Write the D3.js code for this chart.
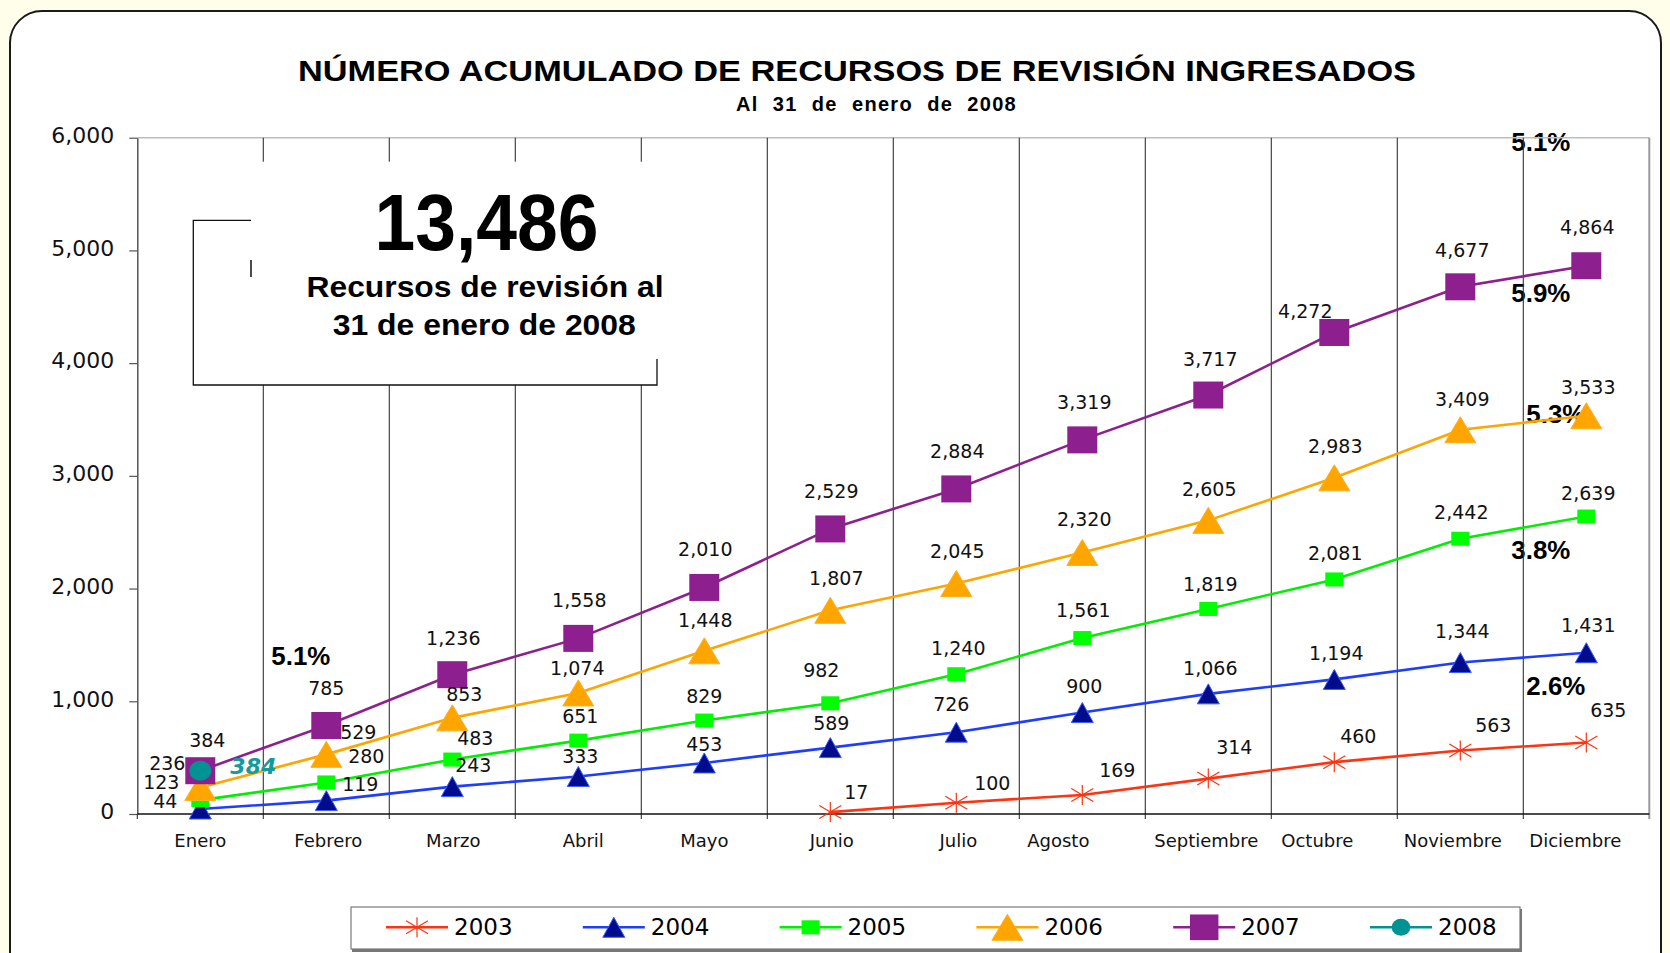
<!DOCTYPE html>
<html><head><meta charset="utf-8">
<script src="https://cdn.jsdelivr.net/npm/d3@7"></script>
<style>html,body{margin:0;padding:0;background:#fffeeb;}svg{display:block}</style>
</head><body>
<svg id="chart" width="1670" height="953"></svg>
<script>
// ---------- DATA ----------
const months = ["Enero","Febrero","Marzo","Abril","Mayo","Junio","Julio","Agosto","Septiembre","Octubre","Noviembre","Diciembre"];
const years = ["2003","2004","2005","2006","2007","2008"];
const values2003 = [null,null,null,null,null,17,100,169,314,460,563,635];
const values2004 = [44,119,243,333,453,589,726,900,1066,1194,1344,1431];
const values2005 = [123,280,483,651,829,982,1240,1561,1819,2081,2442,2639];
const values2006 = [236,529,853,1074,1448,1807,2045,2320,2605,2983,3409,3533];
const values2007 = [384,785,1236,1558,2010,2529,2884,3319,3717,4272,4677,4864];
const values2008 = [384,null,null,null,null,null,null,null,null,null,null,null];
const yTicks = [0,1000,2000,3000,4000,5000,6000];
const titleText = "NÚMERO ACUMULADO DE RECURSOS DE REVISIÓN INGRESADOS";
const subtitleText = "Al 31 de enero de 2008";
const boxNumber = "13,486";
const boxLines = ["Recursos de revisión al","31 de enero de 2008"];
const pctTexts = ["5.1%","5.1%","5.9%","5.3%","3.8%","2.6%"];
const pctMonths = ["Febrero","Diciembre","Diciembre","Diciembre","Diciembre","Diciembre"];
const pctLevels = [1321,5880,4544,3470,2259,1055];

// ---------- LAYOUT / STYLE (not data) ----------
const pctDx = [8,-12,-12,3,-12,3];
const monthLabelDx = [0,2,1,5,0,1.5,2,-24,-2,-17,-7.5,-11];
const labelOffsets = {
  "2003": [null,null,null,null,null,[26,-20],[36,-20],[35,-25],[26,-31],[24,-26],[33,-25],[22,-32]],
  "2004": [[-35,-8],[34,-16],[21,-21],[2,-20],[0,-19],[1,-24],[-5,-28],[2,-26],[2,-26],[2,-26],[2,-31],[2,-28]],
  "2005": [[-39,-18],[40,-26],[23,-21],[2,-24],[0,-24],[-9,-33],[2,-26],[1,-28],[2,-25],[1,-26],[1,-27],[2,-23]],
  "2006": [[-33,-24],[32,-22],[12,-24],[-1,-25],[1,-31],[6,-32],[1,-32],[2,-33],[1,-31],[1,-32],[2,-31],[2,-29]],
  "2007": [[7,-31],[0,-37],[1,-37],[1,-38],[1,-38],[1,-38],[1,-38],[2,-38],[2,-36],[-29,-21],[2,-37],[1,-39]],
  "2008": [[53,-5]]
};
const seriesStyle = {
  "2003": {line:"#ff3311", fill:"#ff3311", marker:"star"},
  "2004": {line:"#1f3dff", fill:"#000c8c", marker:"tri", w:22, h:20, stroke:"#3a5cff"},
  "2005": {line:"#00ee00", fill:"#00ff00", marker:"sq", w:18, h:14},
  "2006": {line:"#ffa500", fill:"#ffa500", marker:"tri", w:31, h:26, stroke:"#ffb020"},
  "2007": {line:"#8e1f8e", fill:"#8e1f8e", marker:"sq", w:30, h:27},
  "2008": {line:"#009393", fill:"#009393", marker:"circ", w:22, h:20}
};
const seriesValues = {"2003":values2003,"2004":values2004,"2005":values2005,"2006":values2006,"2007":values2007,"2008":values2008};

const svg = d3.select("#chart");
const x = d3.scaleBand().domain(months).range([137.3, 1649.3]).paddingInner(0).paddingOuter(0);
const y = d3.scaleLinear().domain([0, 6000]).range([814, 137.7]);
const cx = m => x(m) + x.bandwidth()/2;

// background & panel
svg.append("rect").attr("width",1670).attr("height",953).attr("fill","#fffeeb");
svg.append("rect").attr("x",10).attr("y",11).attr("width",1651).attr("height",1040).attr("rx",32)
  .attr("fill","#ffffff").attr("stroke","#1a1a1a").attr("stroke-width",2);

// title
svg.append("text").attr("x",857).attr("y",80.7).attr("text-anchor","middle")
  .attr("font-family","Liberation Sans, Arial, sans-serif").attr("font-weight","bold").attr("font-size",29)
  .attr("textLength",1118).attr("lengthAdjust","spacingAndGlyphs").attr("fill","#000").text(titleText);
const sub = svg.append("text").attr("x",876.5).attr("y",110.7).attr("text-anchor","middle")
  .attr("font-family","Liberation Sans, Arial, sans-serif").attr("font-weight","bold").attr("font-size",20)
  .attr("letter-spacing","1.3px").attr("fill","#000").text(subtitleText);
{
  const w = sub.node().getComputedTextLength();
  const nSpaces = subtitleText.split(" ").length - 1;
  sub.attr("word-spacing", Math.max(0,(281 - w)/nSpaces) + "px");
}

// percent annotations (under gridlines)
svg.append("g").selectAll("text").data(pctTexts).join("text")
  .attr("x",(d,i)=>x(pctMonths[i]) + pctDx[i]).attr("y",(d,i)=>y(pctLevels[i]))
  .attr("font-family","Liberation Sans, Arial, sans-serif").attr("font-weight","bold").attr("font-size",26)
  .attr("textLength",59).attr("lengthAdjust","spacingAndGlyphs")
  .attr("fill","#000").text(d=>d);

// plot frame
const [x0,x1] = x.range();
svg.append("line").attr("x1",x0).attr("x2",x1).attr("y1",y(6000)).attr("y2",y(6000)).attr("stroke","#bdbdbd").attr("stroke-width",1.5);
svg.append("line").attr("x1",x1).attr("x2",x1).attr("y1",y(6000)).attr("y2",y(0)+5).attr("stroke","#9a9a9a").attr("stroke-width",2);
// vertical gridlines at category boundaries
svg.append("g").selectAll("line").data(months.slice(1)).join("line")
  .attr("x1",d=>x(d)).attr("x2",d=>x(d)).attr("y1",y(6000)).attr("y2",y(0)+5)
  .attr("stroke","#333").attr("stroke-width",1.1);

// annotation box
const boxG = svg.append("g");
boxG.append("rect").attr("x",251).attr("y",161.7).attr("width",406).attr("height",223.3).attr("fill","#fff");
boxG.append("path").attr("d","M251,220.3 H193.3 V385 H657 V359").attr("fill","none").attr("stroke","#111").attr("stroke-width",1.3);
boxG.append("line").attr("x1",251).attr("x2",251).attr("y1",260).attr("y2",277).attr("stroke","#111").attr("stroke-width",1.5);
boxG.append("text").attr("x",486.5).attr("y",250).attr("text-anchor","middle")
  .attr("font-family","Liberation Sans, Arial, sans-serif").attr("font-weight","bold").attr("font-size",80)
  .attr("textLength",224).attr("lengthAdjust","spacingAndGlyphs").text(boxNumber);
boxG.append("text").attr("x",485).attr("y",296.7).attr("text-anchor","middle")
  .attr("font-family","Liberation Sans, Arial, sans-serif").attr("font-weight","bold").attr("font-size",29)
  .attr("textLength",357).attr("lengthAdjust","spacingAndGlyphs").text(boxLines[0]);
boxG.append("text").attr("x",484.3).attr("y",335).attr("text-anchor","middle")
  .attr("font-family","Liberation Sans, Arial, sans-serif").attr("font-weight","bold").attr("font-size",29)
  .attr("textLength",303).attr("lengthAdjust","spacingAndGlyphs").text(boxLines[1]);

// y axis
const yAxis = svg.append("g").attr("transform",`translate(${x0},0)`)
  .call(d3.axisLeft(y).tickValues(yTicks).tickFormat(d3.format(",")).tickSize(8).tickSizeOuter(0).tickPadding(15));
yAxis.select(".domain").attr("stroke","#555").attr("stroke-width",1.5);
yAxis.selectAll(".tick line").attr("stroke","#555").attr("stroke-width",1.2);
yAxis.selectAll(".tick text").attr("font-family","DejaVu Sans, sans-serif").attr("font-size",22).attr("fill","#111").attr("dy","0.22em");

// x axis
const xAxis = svg.append("g").attr("transform",`translate(0,${y(0)})`)
  .call(d3.axisBottom(x).tickSize(0).tickPadding(22));
xAxis.select(".domain").remove();
xAxis.selectAll(".tick text").attr("font-family","DejaVu Sans, sans-serif").attr("font-size",18).attr("fill","#111").attr("dy","0.6em")
  .attr("dx",(d,i)=>monthLabelDx[i]);
svg.append("line").attr("x1",x0).attr("x2",x1).attr("y1",y(0)).attr("y2",y(0)).attr("stroke","#111").attr("stroke-width",1.5);
svg.append("line").attr("x1",x0).attr("x2",x0).attr("y1",y(0)).attr("y2",y(0)+5).attr("stroke","#333").attr("stroke-width",1.1);

// marker drawing
function drawMarker(g, st, px, py, scale=1) {
  if (st.marker === "sq") {
    g.append("rect").attr("x",px-st.w*scale/2).attr("y",py-st.h*scale/2).attr("width",st.w*scale).attr("height",st.h*scale).attr("fill",st.fill);
  } else if (st.marker === "tri") {
    const w=st.w*scale, h=st.h*scale;
    g.append("path").attr("d",`M${px},${py-h/2} L${px+w/2},${py+h/2} L${px-w/2},${py+h/2} Z`)
      .attr("fill",st.fill).attr("stroke",st.stroke).attr("stroke-width",1);
  } else if (st.marker === "circ") {
    g.append("ellipse").attr("cx",px).attr("cy",py).attr("rx",st.w*scale/2).attr("ry",st.h*scale/2).attr("fill",st.fill);
  } else if (st.marker === "star") {
    const a=11*scale, b=10*scale, c=6.5*scale;
    g.append("path").attr("d",`M${px},${py-b} V${py+b} M${px-a},${py-c} L${px+a},${py+c} M${px-a},${py+c} L${px+a},${py-c}`)
      .attr("stroke",st.line).attr("stroke-width",1.2).attr("fill","none");
  }
}

// series
const seriesG = svg.append("g");
const labelG = svg.append("g");
years.forEach(yr => {
  const st = seriesStyle[yr];
  const vals = seriesValues[yr];
  const pts = months.map((m,i)=>({m, v: vals[i], i})).filter(d=>d.v!=null);
  const line = d3.line().x(d=>cx(d.m)).y(d=>y(d.v));
  const g = seriesG.append("g");
  if (pts.length > 1) {
    g.append("path").attr("d",line(pts)).attr("fill","none").attr("stroke",st.line).attr("stroke-width",2.6);
  }
  pts.forEach(d => drawMarker(g, st, cx(d.m), y(d.v)));
  pts.forEach(d => {
    const off = labelOffsets[yr][d.i] || [0,-30];
    const t = labelG.append("text").attr("x",cx(d.m)+off[0]).attr("y",y(d.v)+off[1]).attr("dy","0.36em")
      .attr("text-anchor","middle").text(d3.format(",")(d.v));
    if (yr === "2008") {
      t.attr("font-family","DejaVu Sans, sans-serif").attr("font-size",22).attr("font-weight","bold")
       .attr("font-style","italic").attr("fill","#139a9a");
    } else {
      t.attr("font-family","DejaVu Sans, sans-serif").attr("font-size",19).attr("fill","#111");
    }
  });
});

// legend
const legG = svg.append("g");
legG.append("rect").attr("x",352).attr("y",909).attr("width",1170).attr("height",43).attr("fill","#777");
legG.append("rect").attr("x",351).attr("y",907).attr("width",1169).attr("height",42).attr("fill","#fff").attr("stroke","#7a7a7a").attr("stroke-width",1.2);
const legX = d3.scalePoint().domain(years).range([417, 1401]);
years.forEach(yr => {
  const st = seriesStyle[yr];
  const mx = legX(yr), my = 927.3;
  legG.append("line").attr("x1",mx-31).attr("x2",mx+31).attr("y1",my).attr("y2",my).attr("stroke",st.line).attr("stroke-width",2.6);
  drawMarker(legG, st, mx, my, yr==="2008" ? 0.85 : (yr==="2007" ? 0.95 : 1));
  legG.append("text").attr("x",mx+37).attr("y",935).attr("font-family","DejaVu Sans, sans-serif").attr("font-size",23).attr("fill","#000").text(yr);
});
</script>
</body></html>
